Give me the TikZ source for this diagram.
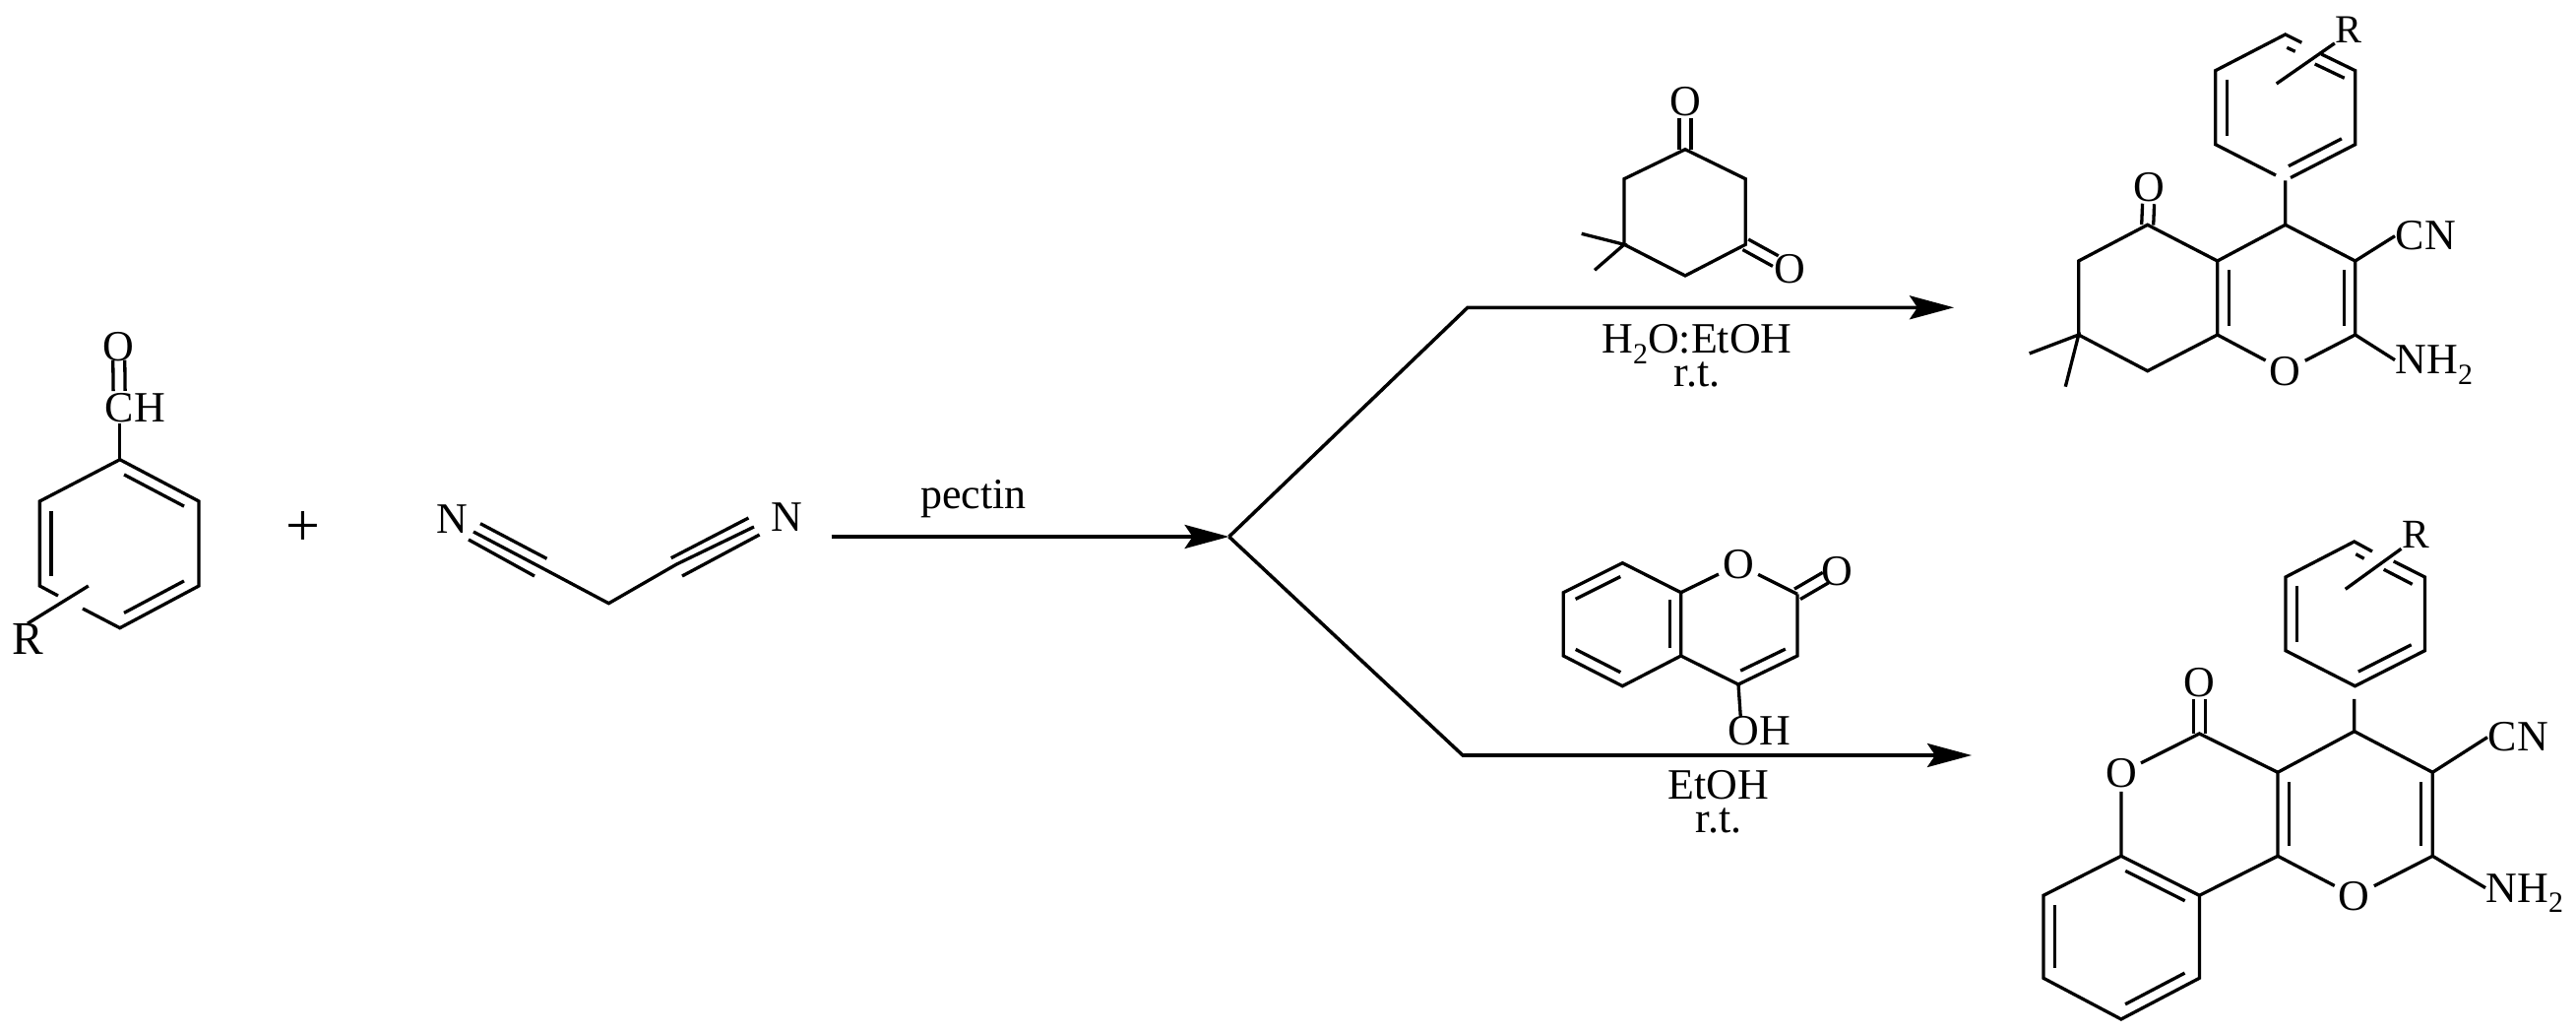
\documentclass[tikz,border=0pt]{standalone}
\usepackage{fontspec}
\setmainfont{Liberation Serif}
\usepackage{tikz}
\usetikzlibrary{arrows.meta,calc}

\newcommand{\subtwo}{\smash{\raisebox{-0.25em}{\fontsize{8.5}{8.5}\selectfont 2}}}
\newcommand{\innerbond}[3][.12]{\draw[bond] ($(#2)!#1!(#3)!0.115cm!90:(#3)$) -- ($(#3)!#1!(#2)!0.115cm!-90:(#2)$);}
\newcommand{\twobond}[3][shorten >=0.17cm]{%
  \draw[bond,#1] ($(#2)!0.06cm!90:(#3)$) -- ($(#3)!0.06cm!-90:(#2)$);
  \draw[bond,#1] ($(#2)!0.06cm!-90:(#3)$) -- ($(#3)!0.06cm!90:(#2)$);}

\begin{document}
\begin{tikzpicture}[
  x=0.01cm, y=-0.01cm,
  bond/.style={line width=0.033cm},
  rxn/.style={line width=0.035cm, -{Stealth[length=0.45cm,width=0.24cm,inset=0.08cm]}},
  atom/.style={inner sep=1pt, font=\fontsize{12.5}{12.5}\selectfont},
  cond/.style={inner sep=0pt, anchor=base, font=\fontsize{12.5}{12.5}\selectfont},
  condtwo/.style={inner sep=0pt, anchor=north, align=center, font=\fontsize{12.5}{9.5}\selectfont}
]
\useasboundingbox (0,0) rectangle (2617,1049);

\coordinate (ald1) at (121.8,466.7);
\coordinate (ald2) at (202,509);
\coordinate (ald3) at (202,595);
\coordinate (ald4) at (121.8,637.7);
\coordinate (ald5) at (40.4,595);
\coordinate (ald6) at (40.4,509);
\coordinate (aldgapa) at (59,605);
\coordinate (aldgapb) at (84,618);
\coordinate (aldsub) at (89.8,595);
\coordinate (aldcho) at (121.3,413);
\node[atom] (aldo) at (120.6,351.7) {O};
\node[cond, anchor=base west] (aldch) at (106,429) {CH};
\node[atom, inner sep=0pt, anchor=base, font=\fontsize{13.5}{13.5}\selectfont] (aldr) at (28,665) {R};
\draw[bond] (aldgapa) -- (ald5) -- (ald6) -- (ald1) -- (ald2) -- (ald3) -- (ald4) -- (aldgapb);
\draw[bond] (aldsub) -- (aldr.north);
\draw[bond] (aldch.south -| ald1) -- (ald1);
\innerbond{ald2}{ald1}
\innerbond{ald6}{ald5}
\innerbond{ald4}{ald3}
\twobond[shorten <=0.16cm, shorten >=0.14cm]{aldcho}{aldo}

\node[atom, font=\fontsize{17.6}{17.6}\selectfont] (plus) at (307.5,536.7) {+};

\node[atom] (malnl) at (459,526.7) {N};
\node[atom] (malnr) at (799.7,525) {N};
\coordinate (malc) at (618.4,612.7);
\coordinate (malla) at (488,531.7);
\coordinate (mallb) at (555.5,567.3);
\coordinate (mallc) at (481,540);
\coordinate (malld) at (553,578);
\coordinate (malle) at (476,548);
\coordinate (mallf) at (543,585);
\coordinate (malra) at (760.4,526);
\coordinate (malrb) at (681.8,566.7);
\coordinate (malrc) at (766,535);
\coordinate (malrd) at (687.4,573);
\coordinate (malre) at (771.6,543);
\coordinate (malrf) at (693,585);
\draw[bond] (mallc) -- (malld) -- (malc) -- (malrd) -- (malrc);
\draw[bond] (malla) -- (mallb);
\draw[bond] (malle) -- (mallf);
\draw[bond] (malra) -- (malrb);
\draw[bond] (malre) -- (malrf);

\coordinate (pstart) at (844.6,545);
\coordinate (branch) at (1248.6,545);
\coordinate (elbowa) at (1491,312.3);
\coordinate (tipa) at (1985,312.3);
\coordinate (elbowb) at (1486,767);
\coordinate (tipb) at (2003,767);
\draw[rxn] (pstart) -- (branch);
\draw[rxn] (branch) -- (elbowa) -- (tipa);
\draw[rxn] (branch) -- (elbowb) -- (tipb);
\node[cond] (pectin) at (989,516.7) {pectin};

\coordinate (dio1) at (1712,151.7);
\coordinate (dio2) at (1773.3,181.7);
\coordinate (dio3) at (1773.3,248.3);
\coordinate (dio4) at (1712,280);
\coordinate (dio5) at (1650,248.3);
\coordinate (dio6) at (1650,181.7);
\coordinate (dioma) at (1606.7,237.3);
\coordinate (diomb) at (1620,274.3);
\node[atom] (dioo) at (1712,103.3) {O};
\node[atom] (diop) at (1818.7,273.3) {O};
\draw[bond] (dio1) -- (dio2) -- (dio3) -- (dio4) -- (dio5) -- (dio6) -- cycle;
\draw[bond] (dioma) -- (dio5) -- (diomb);
\twobond{dio1}{dioo}
\twobond{dio3}{diop}
\node[condtwo] (solva) at (1724,329) {H\subtwo O:EtOH\\r.t.};

\coordinate (cou1) at (1648.3,571.7);
\coordinate (cou2) at (1707.7,601.7);
\coordinate (cou3) at (1707.7,666);
\coordinate (cou4) at (1648.3,696.7);
\coordinate (cou5) at (1588.3,666);
\coordinate (cou6) at (1588.3,601.7);
\coordinate (cou7) at (1826,603.3);
\coordinate (cou8) at (1826,666);
\coordinate (cou9) at (1766,695);
\coordinate (couohb) at (1768.3,728);
\node[atom] (couo) at (1766,573.3) {O};
\node[atom] (coup) at (1866,580) {O};
\node[cond, anchor=base west] (couoh) at (1755,756.7) {OH};
\draw[bond] (cou1) -- (cou2) -- (cou3) -- (cou4) -- (cou5) -- (cou6) -- cycle;
\draw[bond] (cou3) -- (cou9) -- (cou8) -- (cou7);
\draw[bond] (cou2) -- (couo) -- (cou7);
\draw[bond] (cou9) -- (couohb);
\innerbond{cou1}{cou6}
\innerbond{cou5}{cou4}
\innerbond{cou3}{cou2}
\innerbond{cou9}{cou8}
\twobond[shorten >=0.13cm]{cou7}{coup}
\node[condtwo] (solvb) at (1746,782) {EtOH\\r.t.};

\coordinate (pra1) at (2321.7,35);
\coordinate (pra2) at (2392.7,71.7);
\coordinate (pra3) at (2392.7,146.7);
\coordinate (pra4) at (2321.7,183.3);
\coordinate (pra5) at (2250.7,146.7);
\coordinate (pra6) at (2250.7,71.7);
\coordinate (pranl) at (2312,178);
\coordinate (pranr) at (2327,180.5);
\coordinate (pragapa) at (2338.3,43.3);
\coordinate (pragapb) at (2358.3,55);
\coordinate (prada) at (2323.3,48.3);
\coordinate (pradb) at (2331.7,52.3);
\coordinate (pradc) at (2351.7,65);
\coordinate (pradd) at (2381.7,79.3);
\coordinate (prasub) at (2312.7,85);
\node[atom, inner sep=0pt, font=\fontsize{11.5}{11.5}\selectfont] (prar) at (2386,30) {R};
\draw[bond] (pragapa) -- (pra1) -- (pra6) -- (pra5) -- (pranl);
\draw[bond] (pragapb) -- (pra2) -- (pra3) -- (pranr);
\draw[bond] (prasub) -- (prar.south west);
\draw[bond] (prada) -- (pradb);
\draw[bond] (pradc) -- (pradd);
\innerbond{pra6}{pra5}
\innerbond{pra4}{pra3}
\coordinate (prb4) at (2321.7,228.3);
\coordinate (prb3) at (2392.7,265);
\coordinate (prb2) at (2392.7,340);
\coordinate (prb8) at (2252.7,340);
\coordinate (prb9) at (2252.7,265);
\coordinate (prb5) at (2181.7,228.3);
\coordinate (prb6) at (2111.7,265);
\coordinate (prb7) at (2111.7,340);
\coordinate (prb10) at (2181.7,376.7);
\coordinate (prbma) at (2061.7,359);
\coordinate (prbmb) at (2098.3,392.7);
\node[atom] (prbo) at (2321.7,376.7) {O};
\node[atom] (prbp) at (2183.3,190) {O};
\node[cond, anchor=base west] (prbcn) at (2433,254) {CN};
\node[cond, anchor=base west] (prbnh) at (2433,380) {NH\subtwo};
\draw[bond] (pra4) -- (prb4) -- (prb3) -- (prb2);
\draw[bond] (prb4) -- (prb9) -- (prb5) -- (prb6) -- (prb7) -- (prb10) -- (prb8) -- (prb9);
\draw[bond] (prb8) -- (prbo) -- (prb2);
\draw[bond] (prb3) -- (prbcn.west);
\draw[bond] (prb2) -- (prbnh.west);
\draw[bond] (prbma) -- (prb7) -- (prbmb);
\innerbond{prb9}{prb8}
\innerbond{prb2}{prb3}
\twobond{prb5}{prbp}

\coordinate (prc1) at (2391.7,550);
\coordinate (prc2) at (2463.4,586);
\coordinate (prc3) at (2463.4,660.7);
\coordinate (prc4) at (2392.5,696.7);
\coordinate (prc5) at (2322,660.7);
\coordinate (prc6) at (2322,586);
\coordinate (prcgapa) at (2410,560);
\coordinate (prcgapb) at (2431.7,570);
\coordinate (prcda) at (2393.3,562.7);
\coordinate (prcdb) at (2401.7,567.3);
\coordinate (prcdc) at (2421.7,578.3);
\coordinate (prcdd) at (2450.7,593.3);
\coordinate (prcsub) at (2382.7,598.3);
\coordinate (prcdown) at (2391.8,710);
\node[atom, inner sep=0pt, font=\fontsize{11.8}{11.8}\selectfont] (prcr) at (2454,543) {R};
\draw[bond] (prcgapa) -- (prc1) -- (prc6) -- (prc5) -- (prc4) -- (prc3) -- (prc2) -- (prcgapb);
\draw[bond] (prcsub) -- (prcr.south west);
\draw[bond] (prcda) -- (prcdb);
\draw[bond] (prcdc) -- (prcdd);
\innerbond{prc6}{prc5}
\innerbond{prc4}{prc3}
\coordinate (prd4) at (2391.8,742.7);
\coordinate (prd3) at (2471.3,784.3);
\coordinate (prd2) at (2471.3,869.3);
\coordinate (prd10) at (2314,869.3);
\coordinate (prd9) at (2314,784.3);
\coordinate (prd5) at (2234.4,745);
\coordinate (prd6) at (2154.9,869.3);
\coordinate (prd7) at (2076,909.3);
\coordinate (prd8) at (2076,993.3);
\coordinate (prd11) at (2154.9,1035);
\coordinate (prd12) at (2234.4,993.3);
\coordinate (prd13) at (2234.4,909.3);
\node[atom] (prdo) at (2391.8,910) {O};
\node[atom] (prdq) at (2154.9,785) {O};
\node[atom] (prdp) at (2234.4,693.3) {O};
\node[cond, anchor=base west] (prdcn) at (2527,763) {CN};
\node[cond, anchor=base west] (prdnh) at (2525,916) {NH\subtwo};
\draw[bond] (prcdown) -- (prd4) -- (prd3) -- (prd2);
\draw[bond] (prd4) -- (prd9) -- (prd10) -- (prd13) -- (prd12) -- (prd11) -- (prd8) -- (prd7) -- (prd6) -- (prd13);
\draw[bond] (prd9) -- (prd5) -- (prdq) -- (prd6);
\draw[bond] (prd10) -- (prdo) -- (prd2);
\draw[bond] (prd3) -- (prdcn.west);
\draw[bond] (prd2) -- (prdnh.west);
\innerbond{prd9}{prd10}
\innerbond{prd2}{prd3}
\innerbond{prd7}{prd8}
\innerbond{prd11}{prd12}
\innerbond{prd13}{prd6}
\twobond{prd5}{prdp}

\end{tikzpicture}
\end{document}
